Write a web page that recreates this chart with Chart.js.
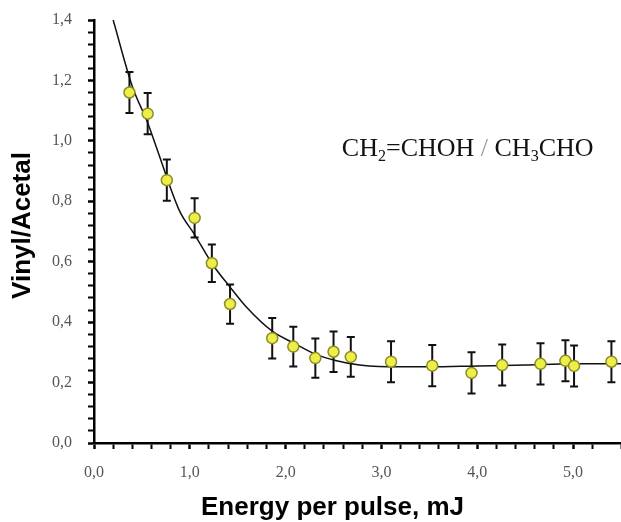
<!DOCTYPE html>
<html>
<head>
  <meta charset="utf-8">
  <title>Vinyl/Acetal vs energy per pulse</title>
  <script src="https://cdn.jsdelivr.net/npm/chart.js"></script>
  <style>
    body { margin: 0; background: #fff; }
  </style>
</head>
<body>
  <canvas id="chart" width="621" height="522"></canvas>

  <script>
    const energy   = [0.37, 0.56, 0.76, 1.05, 1.23, 1.42, 1.86, 2.08, 2.31, 2.50, 2.68, 3.10, 3.53, 3.94, 4.26, 4.66, 4.92, 5.01, 5.40];
    const ratio    = [1.16, 1.09, 0.87, 0.745, 0.595, 0.46, 0.347, 0.319, 0.281, 0.302, 0.285, 0.269, 0.256, 0.232, 0.258, 0.262, 0.272, 0.255, 0.269];
    const ratioErr = [0.068, 0.068, 0.068, 0.065, 0.062, 0.065, 0.067, 0.066, 0.065, 0.067, 0.066, 0.068, 0.068, 0.068, 0.068, 0.068, 0.068, 0.068, 0.068];

    // fitted curve
    const fitEnergy = [0.20, 0.40, 0.56, 0.65, 0.89, 1.05, 1.24, 1.41, 1.59, 1.86, 2.09, 2.31, 2.52, 2.77, 2.97, 3.50, 4.00, 4.50, 5.00, 5.50];
    const fitRatio  = [1.40, 1.18, 1.06, 0.98, 0.77, 0.69, 0.59, 0.52, 0.45, 0.37, 0.33, 0.294, 0.273, 0.258, 0.253, 0.252, 0.255, 0.258, 0.262, 0.262];

    // labelled ticks
    const xMajor = [0, 1, 2, 3, 4, 5];
    const yMajor = [0, 0.2, 0.4, 0.6, 0.8, 1.0, 1.2, 1.4];

    const isMajor = (list, v) => list.some(m => Math.abs(m - v) < 1e-6);
    const fmt = v => v.toFixed(1).replace('.', ',');

    const errorBars = {
      id: 'errorBars',
      beforeDatasetsDraw(chart) {
        const {ctx, scales: {x, y}} = chart;
        ctx.save();
        ctx.strokeStyle = '#111';
        ctx.lineWidth = 2;
        energy.forEach((e, i) => {
          const px = x.getPixelForValue(e);
          const top = y.getPixelForValue(ratio[i] + ratioErr[i]);
          const bot = y.getPixelForValue(ratio[i] - ratioErr[i]);
          ctx.beginPath();
          ctx.moveTo(px, top); ctx.lineTo(px, bot);
          ctx.moveTo(px - 4, top); ctx.lineTo(px + 4, top);
          ctx.moveTo(px - 4, bot); ctx.lineTo(px + 4, bot);
          ctx.stroke();
        });
        ctx.restore();
      }
    };

    const labels = {
      id: 'labels',
      afterDraw(chart) {
        const {ctx, chartArea: a, scales: {x, y}} = chart;
        ctx.save();
        ctx.fillStyle = '#000';
        ctx.textAlign = 'center';
        ctx.textBaseline = 'middle';
        ctx.font = 'bold 26px "Liberation Sans", Arial, sans-serif';
        ctx.fillText('Energy per pulse, mJ', (a.left + a.right) / 2 - 25, 508);
        ctx.translate(23, (a.top + a.bottom) / 2 - 6);
        ctx.rotate(-Math.PI / 2);
        ctx.fillText('Vinyl/Acetal', 0, 0);
        ctx.restore();

        // formula annotation
        ctx.save();
        ctx.fillStyle = '#111';
        ctx.textBaseline = 'alphabetic';
        const big = '26px "Liberation Serif", "Times New Roman", serif';
        const small = '16px "Liberation Serif", "Times New Roman", serif';
        const parts = [['CH', big, 0], ['2', small, 5], ['=CHOH ', big, 0], ['/', big, 0], [' CH', big, 0], ['3', small, 5], ['CHO', big, 0]];
        let total = 0;
        parts.forEach(p => { ctx.font = p[1]; total += ctx.measureText(p[0]).width; });
        let cx = x.getPixelForValue(3.9) - total / 2;
        const cy = y.getPixelForValue(0.987) + 11;
        parts.forEach(p => {
          ctx.font = p[1];
          ctx.fillStyle = p[0] === '/' ? '#999' : '#111';
          ctx.fillText(p[0], cx, cy + p[2]);
          cx += ctx.measureText(p[0]).width;
        });
        ctx.restore();
      }
    };

    window.onload = () => {
      const ctx = document.getElementById('chart').getContext('2d');
      new Chart(ctx, {
        type: 'scatter',
        data: {
          datasets: [
            {
              label: 'Vinyl/Acetal',
              data: energy.map((e, i) => ({x: e, y: ratio[i]})),
              backgroundColor: '#eeee48',
              borderColor: '#8c8c24',
              borderWidth: 1.5,
              pointRadius: 5.5,
              pointStyle: 'circle'
            },
            {
              type: 'line',
              label: 'fit',
              data: fitEnergy.map((e, i) => ({x: e, y: fitRatio[i]})),
              borderColor: '#111',
              borderWidth: 1.5,
              pointRadius: 0,
              fill: false,
              cubicInterpolationMode: 'monotone'
            }
          ]
        },
        options: {
          responsive: false,
          devicePixelRatio: 1,
          animation: false,
          layout: { autoPadding: false, padding: { top: 20, right: 0, left: 0, bottom: 0 } },
          plugins: { legend: { display: false }, tooltip: { enabled: false } },
          scales: {
            x: {
              type: 'linear',
              min: 0, max: 5.5,
              afterFit: s => { s.height = 79; s.paddingLeft = 0; s.paddingRight = 0; },
              border: { display: true, color: '#000', width: 2.5 },
              grid: {
                drawOnChartArea: false, drawTicks: true, tickLength: 6,
                tickColor: '#000',
                tickWidth: c => isMajor(xMajor, c.tick.value) ? 2.5 : 2
              },
              ticks: {
                stepSize: 0.2, autoSkip: false, maxRotation: 0, padding: 14,
                color: '#555',
                font: { family: '"Liberation Serif", "Times New Roman", serif', size: 16 },
                callback: v => isMajor(xMajor, v) ? fmt(v) : ''
              }
            },
            y: {
              min: 0, max: 1.4,
              afterFit: s => { s.width = 94; s.paddingTop = 0; s.paddingBottom = 0; },
              border: { display: true, color: '#000', width: 2.5 },
              grid: {
                drawOnChartArea: false, drawTicks: true, tickLength: 6,
                tickColor: '#000',
                tickWidth: c => isMajor(yMajor, c.tick.value) ? 2.5 : 2
              },
              ticks: {
                stepSize: 0.04, autoSkip: false, padding: 16,
                color: '#555',
                font: { family: '"Liberation Serif", "Times New Roman", serif', size: 16 },
                callback: v => isMajor(yMajor, v) ? fmt(v) : ''
              }
            }
          }
        },
        plugins: [errorBars, labels]
      });
    };
  </script>
</body>
</html>
